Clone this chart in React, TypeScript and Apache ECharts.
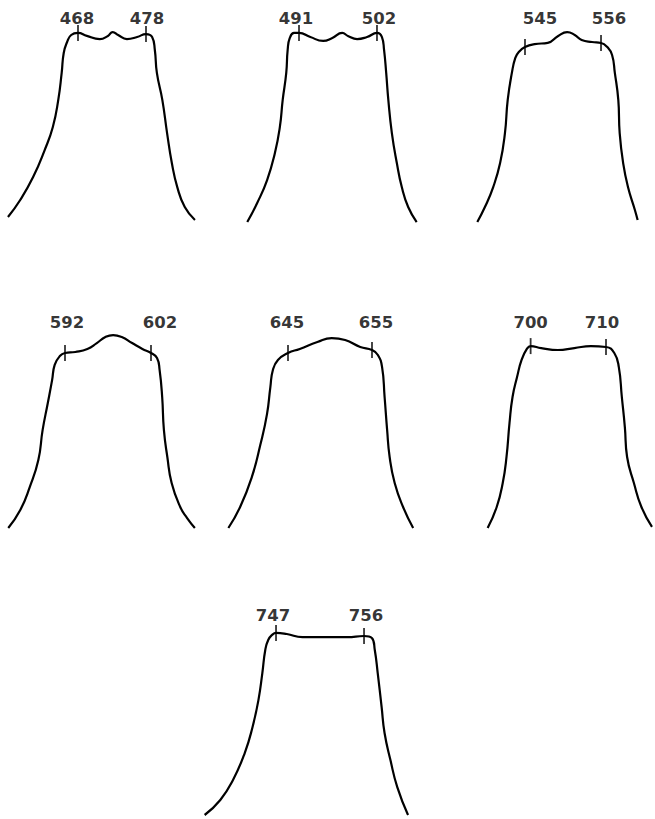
import React, { useEffect, useRef } from "react";
import * as echarts from "echarts";

// Marked band edges (nm), shown as tick labels above each curve
const bandLabels: string[][] = [
  ["468", "478"],
  ["491", "502"],
  ["545", "556"],
  ["592", "602"],
  ["645", "655"],
  ["700", "710"],
  ["747", "756"],
];

// Wavelength (nm) and relative transmission (%)
const wl468 = [457.7, 459.5, 461.4, 463.1, 464.3, 465.1, 465.6, 465.9, 466.4, 467.0, 468.0, 469.3, 471.2, 472.4, 473.1, 473.9, 475.2, 476.7, 478.0, 478.9, 479.3, 479.6, 480.4, 481.1, 481.8, 482.6, 483.7, 485.2];
const tr468 = [1.6, 10.8, 23.2, 37.8, 50.3, 64.9, 79.5, 90.3, 96.2, 100, 101.1, 99.5, 97.8, 99.5, 101.6, 100, 97.8, 98.9, 100.5, 98.9, 91.9, 79.5, 64.9, 47.0, 30.8, 17.8, 7.0, 0];

const wl491 = [483.7, 485.1, 486.5, 487.6, 488.3, 488.7, 489.2, 489.4, 489.7, 490.3, 491.0, 492.6, 494.4, 495.7, 497.1, 497.9, 499.2, 500.6, 502.0, 502.7, 503.0, 503.3, 503.6, 504.1, 504.8, 505.5, 506.4, 507.6];
const tr491 = [-1.1, 9.2, 21.6, 36.2, 50.3, 64.9, 79.5, 91.9, 98.4, 101.1, 101.1, 98.9, 96.8, 98.4, 101.1, 99.5, 97.8, 98.9, 101.1, 98.9, 91.9, 79.5, 64.9, 47.0, 30.8, 17.8, 7.0, -1.1];

const wl545 = [538.1, 539.2, 540.4, 541.4, 542.1, 542.5, 543.1, 543.6, 544.1, 545.0, 546.4, 548.3, 549.8, 551.1, 552.2, 553.2, 554.7, 556.0, 556.9, 557.6, 558.0, 558.5, 558.7, 559.2, 559.9, 560.9, 561.3];
const tr545 = [-1.1, 7.0, 17.8, 30.8, 47.0, 64.9, 79.5, 87.6, 90.8, 93.5, 95.1, 95.7, 99.5, 101.6, 100, 97.3, 96.2, 95.7, 93.5, 89.2, 79.5, 64.9, 47.0, 30.8, 17.8, 5.4, 0];

const wl592 = [585.4, 586.8, 587.9, 588.9, 589.4, 590.0, 590.5, 590.8, 591.4, 592.0, 593.2, 594.6, 595.7, 596.7, 597.6, 598.6, 599.8, 601.0, 602.0, 602.7, 603.0, 603.3, 603.5, 603.9, 604.4, 605.4, 606.2, 607.1];
const tr592 = [0, 10.1, 23.0, 38.2, 55.1, 70.2, 83.1, 91.6, 96.6, 98.3, 98.9, 100.6, 103.9, 107.3, 108.4, 107.3, 103.9, 100.6, 98.3, 95.5, 88.8, 73.6, 55.1, 39.9, 25.3, 11.8, 5.6, 0];

const wl645 = [637.9, 639.3, 640.7, 641.7, 642.5, 642.9, 643.2, 643.8, 645.0, 646.4, 648.5, 650.2, 651.8, 653.6, 655.0, 655.7, 656.2, 656.5, 656.8, 657.1, 657.7, 658.7, 659.9];
const tr645 = [0, 11.8, 28.7, 46.6, 64.0, 79.2, 88.8, 94.4, 98.3, 100.6, 104.5, 106.7, 105.6, 101.7, 100, 97.2, 90.4, 73.6, 55.1, 39.9, 25.3, 11.8, 0];

const wl700 = [694.3, 695.5, 696.3, 696.8, 697.2, 697.6, 698.2, 698.8, 699.5, 700.0, 701.4, 703.6, 705.8, 708.0, 710.0, 711.1, 711.7, 712.1, 712.5, 712.8, 713.7, 714.7, 716.1];
const tr700 = [0, 11.8, 25.3, 39.9, 59.0, 73.6, 84.8, 94.4, 100.6, 102.2, 101.1, 100, 101.1, 102.2, 101.7, 98.3, 90.4, 73.6, 56.7, 39.9, 25.3, 11.8, 0.6];

const wl747 = [739.7, 741.3, 742.6, 743.8, 744.6, 745.2, 745.6, 745.9, 746.2, 746.6, 747.0, 748.1, 749.7, 751.8, 754.3, 756.0, 756.8, 757.1, 757.4, 757.8, 758.1, 758.7, 759.4, 760.5];
const tr747 = [0, 8.4, 19.6, 34.6, 49.2, 64.2, 79.3, 92.2, 97.8, 100.6, 101.7, 101.1, 99.4, 99.4, 99.4, 100, 98.9, 92.2, 79.3, 60.3, 45.8, 30.7, 15.6, 0];

const wavelengths = [wl468, wl491, wl545, wl592, wl645, wl700, wl747];
const transmissions = [tr468, tr491, tr545, tr592, tr645, tr700, tr747];

// ---- layout (pixels) ----
const rows = [
  { zero: 220, ppu: 1.85, max: 115, labelT: 109 },
  { zero: 528, ppu: 1.78, max: 120, labelT: 115.7 },
  { zero: 815, ppu: 1.79, max: 120, labelT: 111.2 },
];
const panels = [
  { row: 0, left: 3.2, width: 204, min: 457, max: 487, dx: [-1, 1] },
  { row: 0, left: 242.3, width: 184.3, min: 483, max: 509, dx: [-3, 2] },
  { row: 0, left: 469.7, width: 179.7, min: 537, max: 563, dx: [15, 8] },
  { row: 1, left: 4.8, width: 197.8, min: 585, max: 608, dx: [2, 9] },
  { row: 1, left: 220.8, width: 201.6, min: 637, max: 661, dx: [-1, 4] },
  { row: 1, left: 485.4, width: 171, min: 694, max: 716.5, dx: [0, -4] },
  { row: 2, left: 197.8, width: 224.9, min: 739, max: 762, dx: [-3, 2] },
];

function interp(xs: number[], ys: number[], x: number): number {
  for (let i = 0; i < xs.length - 1; i++) {
    if (x >= xs[i] && x <= xs[i + 1]) {
      const f = (x - xs[i]) / (xs[i + 1] - xs[i] || 1);
      return ys[i] + f * (ys[i + 1] - ys[i]);
    }
  }
  return ys[0];
}

export default function App() {
  const ref = useRef<HTMLDivElement>(null);
  useEffect(() => {
    if (!ref.current) return;
    const chart = echarts.init(ref.current, undefined, { renderer: "svg" });
    const grid: any[] = [];
    const xAxis: any[] = [];
    const yAxis: any[] = [];
    const series: any[] = [];
    panels.forEach((p, i) => {
      const r = rows[p.row];
      grid.push({
        left: p.left,
        width: p.width,
        top: r.zero - r.max * r.ppu,
        height: r.max * r.ppu,
        containLabel: false,
      });
      xAxis.push({ type: "value", gridIndex: i, min: p.min, max: p.max, show: false });
      yAxis.push({ type: "value", gridIndex: i, min: 0, max: r.max, show: false });
      const xs = wavelengths[i];
      const ys = transmissions[i];
      series.push({
        type: "line",
        xAxisIndex: i,
        yAxisIndex: i,
        data: xs.map((x, k) => [x, ys[k]]),
        smooth: 0.5,
        symbol: "none",
        clip: false,
        lineStyle: { color: "#000", width: 2.2 },
        silent: true,
      });
      const ticks = bandLabels[i].map((l) => Number(l));
      series.push({
        type: "scatter",
        xAxisIndex: i,
        yAxisIndex: i,
        clip: false,
        symbol: "rect",
        symbolSize: [1.8, 16],
        itemStyle: { color: "#000" },
        data: ticks.map((t) => [t, interp(xs, ys, t)]),
        silent: true,
      });
      series.push({
        type: "scatter",
        xAxisIndex: i,
        yAxisIndex: i,
        clip: false,
        symbol: "circle",
        symbolSize: 0,
        itemStyle: { color: "#000" },
        label: {
          show: true,
          position: "inside",
          formatter: "{b}",
          color: "#000",
          textBorderWidth: 0,
          fontFamily: "DejaVu Sans",
          fontWeight: "bold",
          fontSize: 16.5,
        },
        data: bandLabels[i].map((l, k) => ({
          name: l,
          value: [Number(l), r.labelT],
          label: { offset: [p.dx[k], 0] },
        })),
        silent: true,
      });
    });
    chart.setOption({
      animation: false,
      backgroundColor: "#ffffff",
      grid,
      xAxis,
      yAxis,
      series,
    });
    return () => chart.dispose();
  }, []);
  return (
    <div
      ref={ref}
      style={{ position: "absolute", left: 0, top: 0, width: 655, height: 819, background: "#fff" }}
    />
  );
}
